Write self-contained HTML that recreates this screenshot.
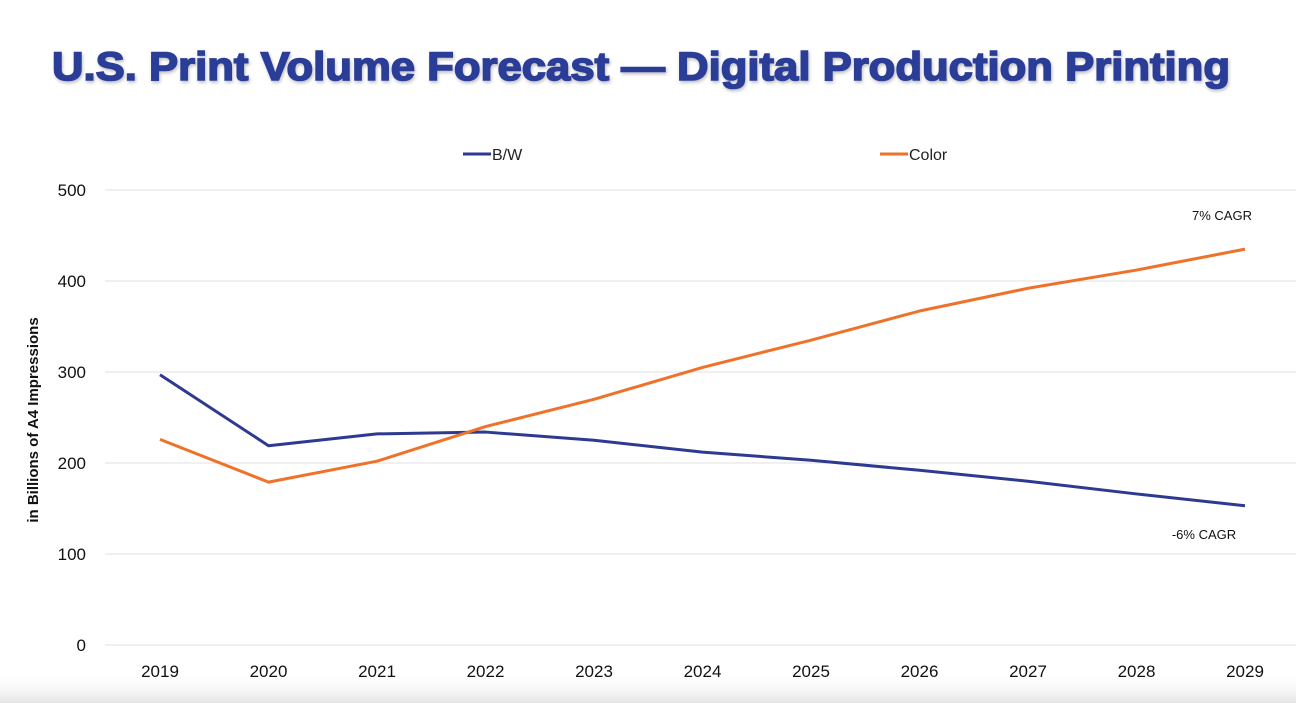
<!DOCTYPE html>
<html><head><meta charset="utf-8"><style>
body{margin:0;background:#fff;width:1296px;height:703px;overflow:hidden;font-family:"Liberation Sans",sans-serif}
</style></head><body>
<svg id="chart" width="1296" height="703" xmlns="http://www.w3.org/2000/svg">
<defs>
<linearGradient id="fade" x1="0" y1="0" x2="0" y2="1"><stop offset="0" stop-color="#fff" stop-opacity="0"/><stop offset="1" stop-color="#e4e4e4"/></linearGradient>
<filter id="sh"><feDropShadow dx="1" dy="2" stdDeviation="1.5" flood-color="#000" flood-opacity="0.25"/></filter>
</defs>
<rect x="0" y="672" width="1296" height="31" fill="url(#fade)"/>
<text x="52" y="80" font-size="40" font-weight="bold" fill="#2B3C97" stroke="#2B3C97" stroke-width="1.6" filter="url(#sh)" textLength="1178" lengthAdjust="spacingAndGlyphs">U.S. Print Volume Forecast — Digital Production Printing</text>
<g>
<g><line x1="463" y1="154" x2="491" y2="154" stroke="#2E3A92" stroke-width="3"/><text x="492" y="160" font-size="16" fill="#222">B/W</text></g>
<g><line x1="880" y1="154" x2="908" y2="154" stroke="#EE7229" stroke-width="3"/><text x="909" y="160" font-size="16" fill="#222">Color</text></g>
</g>
<text transform="translate(38,420) rotate(-90)" text-anchor="middle" font-size="15" font-weight="bold" fill="#111">in Billions of A4 Impressions</text>
<g id="grid"></g><g id="series"></g>
<text x="1222" y="220" text-anchor="middle" font-size="13" fill="#111">7% CAGR</text>
<text x="1204" y="539" text-anchor="middle" font-size="13" fill="#111">-6% CAGR</text>
</svg>
<script>
const years=["2019","2020","2021","2022","2023","2024","2025","2026","2027","2028","2029"];
const bwValues=[297,219,232,234,225,212,203,192,180,166,153];
const colorValues=[226,179,202,240,270,305,335,367,392,412,435];
const yTicks=[0,100,200,300,400,500];
const NS="http://www.w3.org/2000/svg";
const x=i=>160+i*108.5;
const y=v=>645-v*0.91;
const grid=document.getElementById('grid'),series=document.getElementById('series');
function mk(t,a,p){const e=document.createElementNS(NS,t);for(const k in a)e.setAttribute(k,a[k]);p.appendChild(e);return e;}
yTicks.forEach(v=>{
 const l=mk('line',{x1:105,x2:1296,y1:y(v),y2:y(v),stroke:'#e2e2e2','stroke-width':1},grid);
 
 
 const t=mk('text',{x:86,y:y(v)+6,'text-anchor':'end','font-size':17,fill:'#111'},grid);
 t.textContent=v;
 
 
});
years.forEach((yr,i)=>{
 const t=mk('text',{x:x(i),y:677,'text-anchor':'middle','font-size':17,fill:'#111'},grid);
 t.textContent=yr;
 
 
});
function line(vals,col,name){
 const p=mk('polyline',{points:vals.map((v,i)=>x(i)+','+y(v)).join(' '),fill:'none',stroke:col,'stroke-width':3,'stroke-linejoin':'round'},series);
 
 
}
line(bwValues,'#2E3A92','bw-line');
line(colorValues,'#EE7229','color-line');
</script>
</body></html>
